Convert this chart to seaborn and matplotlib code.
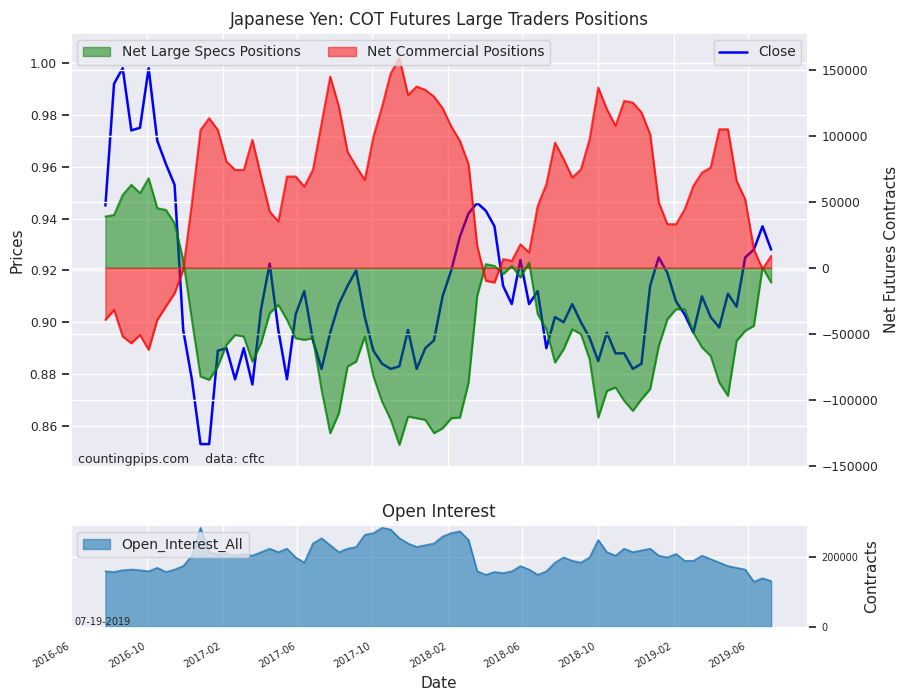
import matplotlib
matplotlib.use("Agg")
import matplotlib.pyplot as plt
import matplotlib.dates as mdates
import seaborn as sns
import pandas as pd
import numpy as np
from matplotlib.patches import Patch
from matplotlib.lines import Line2D

sns.set_theme(style="darkgrid", font_scale=0.8)
plt.rcParams['font.family'] = ['DejaVu Sans']

dates = pd.date_range("2016-07-26", periods=78, freq="14D")

specs = [38900, 40100, 55300, 62900, 56600, 67900, 45200, 43900, 33800, 6000,
         -39400, -82300, -84800, -74700, -58300, -50800, -52000, -71000, -57100, -34300,
         -28000, -39400, -53300, -54500, -53300, -92400, -125200, -110100, -74700, -71000,
         -52000, -82300, -101300, -115100, -134100, -112600, -113900, -115100, -125200, -121500,
         -113900, -113400, -86900, -21200, 2800, 1500, -4800, 1500, -7300, 4000,
         -35100, -46500, -71700, -61600, -46500, -50200, -69200, -113400, -93200, -90600,
         -100700, -108300, -99500, -91900, -59100, -38900, -31300, -31300, -49000, -60300,
         -66700, -86900, -97000, -55300, -47700, -43900, 300, -11100]

commercial = [-39400, -31800, -52000, -57100, -50800, -62100, -39400, -29300, -19200, -1500,
              49000, 104500, 113400, 104500, 80500, 74200, 74200, 97000, 69200, 42700,
              35100, 69200, 69200, 61600, 74200, 109600, 144900, 122200, 88100, 76800,
              66700, 99500, 122200, 147500, 158800, 131000, 137400, 134800, 129800, 121000,
              107100, 96200, 78500, 16700, -9800, -11100, 6600, 5300, 17900, 11600,
              47000, 63400, 94900, 82300, 68400, 74700, 97500, 136600, 120200, 107600,
              126500, 125200, 117700, 101300, 49500, 33100, 33100, 44400, 62100, 72200,
              76000, 105000, 105000, 65900, 52000, 14100, -1000, 9100]

close = [0.945, 0.992, 0.998, 0.974, 0.975, 0.998, 0.970, 0.961, 0.953, 0.897,
         0.878, 0.853, 0.853, 0.889, 0.890, 0.878, 0.890, 0.876, 0.905, 0.9226,
         0.897, 0.878, 0.903, 0.912, 0.893, 0.882, 0.896, 0.907, 0.914, 0.920,
         0.902, 0.889, 0.884, 0.882, 0.883, 0.897, 0.882, 0.890, 0.893, 0.910,
         0.920, 0.933, 0.942, 0.946, 0.943, 0.937, 0.914, 0.907, 0.924, 0.907,
         0.912, 0.890, 0.902, 0.900, 0.907, 0.900, 0.894, 0.885, 0.896, 0.888,
         0.888, 0.882, 0.884, 0.914, 0.925, 0.919, 0.908, 0.903, 0.896, 0.910,
         0.902, 0.898, 0.911, 0.906, 0.925, 0.928, 0.937, 0.928]

open_interest = [160, 158, 163, 165, 163, 160, 170, 158, 165, 175,
                 205, 285, 215, 208, 210, 205, 210, 205, 215, 225,
                 215, 225, 200, 185, 240, 255, 235, 215, 225, 230,
                 265, 270, 285, 280, 255, 240, 230, 235, 240, 260,
                 270, 275, 250, 160, 150, 158, 155, 160, 175, 165,
                 150, 160, 185, 200, 190, 185, 200, 250, 215, 205,
                 225, 215, 220, 225, 205, 200, 210, 190, 190, 205,
                 195, 185, 175, 170, 165, 130, 140, 132]
open_interest = [v * 1000 for v in open_interest]

df = pd.DataFrame({"Date": dates, "specs": specs, "comm": commercial,
                   "Close": close, "OI": open_interest})

fig = plt.figure(figsize=(9, 7), dpi=100)
ax = fig.add_axes([0.078, 0.333, 0.82, 0.62])
ax2 = ax.twinx()
axb = fig.add_axes([0.078, 0.103, 0.82, 0.147], sharex=ax)

sns.lineplot(data=df, x="Date", y="Close", ax=ax, color="blue", lw=1.8, legend=False)
ax.set_ylim(0.8442, 1.0116)
ax.set_ylabel("Prices", fontsize=11)
ax.set_xlabel("")

ax2.fill_between(df["Date"], 0, df["specs"], color="green", alpha=0.5)
ax2.plot(df["Date"], df["specs"], color="green", alpha=0.7, lw=1.5)
ax2.fill_between(df["Date"], 0, df["comm"], color="red", alpha=0.5)
ax2.plot(df["Date"], df["comm"], color="red", alpha=0.7, lw=1.5)
ax2.set_ylim(-150800, 178000)
ax2.set_yticks([-150000, -100000, -50000, 0, 50000, 100000, 150000])
ax2.set_ylabel("Net Futures Contracts", fontsize=11)
ax2.grid(True, color="white")

leg1 = ax2.legend([Patch(facecolor="green", edgecolor="green", alpha=0.5),
                   Patch(facecolor="red", edgecolor="red", alpha=0.5)],
                  ["Net Large Specs Positions", "Net Commercial Positions"],
                  loc="upper left", ncol=2, fontsize=10)
ax2.add_artist(leg1)
ax2.legend([Line2D([0], [0], color="blue", lw=1.8)], ["Close"], loc="upper right", fontsize=10)
ax.set_title("Japanese Yen: COT Futures Large Traders Positions", fontsize=12)
ax.text(0.01, 0.01, "countingpips.com    data: cftc", transform=ax.transAxes, fontsize=9)
plt.setp(ax.get_xticklabels(), visible=False)

axb.fill_between(df["Date"], 0, df["OI"], color="#1f77b4", alpha=0.6)
axb.plot(df["Date"], df["OI"], color="#1f77b4", alpha=0.7, lw=1.2)
axb.set_ylim(-2900, 293000)
axb.yaxis.tick_right()
axb.yaxis.set_label_position("right")
axb.set_yticks([0, 200000])
axb.tick_params(axis="y", labelsize=7)
axb.set_ylabel("Contracts", fontsize=11)
axb.set_xlabel("Date", fontsize=11)
axb.set_title("Open Interest", fontsize=12)
axb.legend([Patch(facecolor="#1f77b4", edgecolor="#1f77b4", alpha=0.6)],
           ["Open_Interest_All"], loc="upper left", fontsize=10)
axb.text(0.005, 0.03, "07-19-2019", transform=axb.transAxes, fontsize=7)
axb.set_xlim(pd.Timestamp("2016-05-30"), pd.Timestamp("2019-09-07"))
axb.xaxis.set_major_locator(mdates.MonthLocator(bymonth=[2, 6, 10]))
axb.xaxis.set_major_formatter(mdates.DateFormatter("%Y-%m"))
plt.setp(axb.get_xticklabels(), rotation=30, ha="right", fontsize=7)

fig.savefig("out.png", dpi=100)
